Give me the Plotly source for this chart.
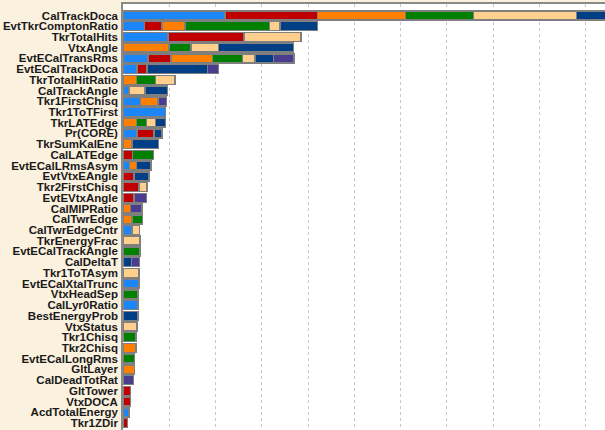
import plotly.graph_objects as go

# Variable names, top to bottom
variables = [
    "CalTrackDoca", "EvtTkrComptonRatio", "TkrTotalHits", "VtxAngle",
    "EvtECalTransRms", "EvtECalTrackDoca", "TkrTotalHitRatio", "CalTrackAngle",
    "Tkr1FirstChisq", "Tkr1ToTFirst", "TkrLATEdge", "Pr(CORE)",
    "TkrSumKalEne", "CalLATEdge", "EvtECalLRmsAsym", "EvtVtxEAngle",
    "Tkr2FirstChisq", "EvtEVtxAngle", "CalMIPRatio", "CalTwrEdge",
    "CalTwrEdgeCntr", "TkrEnergyFrac", "EvtECalTrackAngle", "CalDeltaT",
    "Tkr1ToTAsym", "EvtECalXtalTrunc", "VtxHeadSep", "CalLyr0Ratio",
    "BestEnergyProb", "VtxStatus", "Tkr1Chisq", "Tkr2Chisq",
    "EvtECalLongRms", "GltLayer", "CalDeadTotRat", "GltTower",
    "VtxDOCA", "AcdTotalEnergy", "Tkr1ZDir",
]

N = None
# Contribution of each variable in every group (stacked left to right)
group1 = [2.21, 0.47, 0.97, N, 0.54, 0.30, N, 0.13, 0.38, 0.92, N, 0.30,
          N, N, 0.14, N, N, N, N, N, 0.19, N, N, N, N, 0.35, N, 0.32,
          N, N, N, N, N, N, N, N, N, 0.13, N]
group2 = [1.99, 0.37, 1.65, N, 0.50, 0.22, N, N, N, N, N, 0.37,
          N, 0.21, N, 0.24, 0.35, 0.24, N, N, N, N, N, N, N, N, N, N,
          N, N, N, N, N, N, N, 0.16, 0.16, N, 0.10]
group3 = [1.91, 0.50, N, 0.99, 0.89, N, 0.29, N, 0.38, N, 0.29, N,
          0.19, N, 0.15, N, N, N, 0.16, 0.19, N, N, N, N, N, N, N, N,
          N, N, N, 0.28, N, 0.25, N, N, N, N, N]
group4 = [1.47, 1.83, N, 0.48, 0.65, N, 0.41, N, N, N, 0.22, N,
          N, 0.45, N, N, N, N, N, 0.23, N, N, 0.37, N, N, N, 0.32, N,
          N, N, 0.28, N, 0.25, N, N, N, N, N, N]
group5 = [2.22, 0.22, 1.23, 0.59, 0.27, N, 0.42, 0.35, N, N, 0.19, N,
          N, N, N, N, 0.17, N, N, N, 0.17, 0.37, N, N, 0.35, N, N, N,
          N, 0.30, N, N, N, N, N, N, N, N, N]
group6 = [0.80, 0.81, N, 1.63, 0.40, 1.31, N, 0.48, N, N, 0.22, 0.17,
          0.58, N, 0.32, 0.32, N, N, N, N, N, N, N, 0.18, N, N, N, N,
          0.32, N, N, N, N, N, N, N, N, N, N]
group7 = [N, N, N, N, 0.45, 0.23, N, N, 0.18, N, N, N,
          N, N, N, N, N, 0.27, 0.25, N, N, N, N, 0.18, N, N, N, N,
          N, N, N, N, N, N, 0.23, N, N, N, N]

groups = [group1, group2, group3, group4, group5, group6, group7]
colors = ["#1A86F7", "#C00000", "#FF8000", "#008000", "#FFCF8E", "#003F86", "#4A3C8E"]

fig = go.Figure()
for i, (vals, col) in enumerate(zip(groups, colors)):
    fig.add_trace(go.Bar(
        y=variables, x=vals, orientation="h", name=f"group {i + 1}",
        marker=dict(color=col, line=dict(color="#7F7F7F", width=1.5)),
        hoverinfo="y+x",
    ))

fig.update_layout(
    barmode="stack",
    bargap=0.16,
    width=605, height=430,
    margin=dict(l=123, r=0, t=4, b=0),
    paper_bgcolor="#FBF1DF",
    plot_bgcolor="#FFFFFF",
    showlegend=False,
    xaxis=dict(
        range=[0, 10.42], dtick=1, showticklabels=False, ticks="",
        showgrid=True, gridcolor="#C8C8C8", griddash="3px,3px", gridwidth=1,
        zeroline=False, showline=True, side="top", automargin=False,
        linecolor="#8A8A8A", linewidth=1.5,
    ),
    yaxis=dict(
        categoryorder="array", categoryarray=variables,
        tickmode="array", tickvals=variables, ticktext=variables,
        range=[38.65, -1.07], ticks="", showgrid=False, zeroline=False,
        showline=True, linecolor="#8A8A8A", linewidth=1.5,
        ticklabelstandoff=1, automargin=False,
        tickfont=dict(family="Liberation Sans", size=11.5, color="#1A1A1A",
                      weight="bold"),
    ),
)

fig.write_html("out.html")
